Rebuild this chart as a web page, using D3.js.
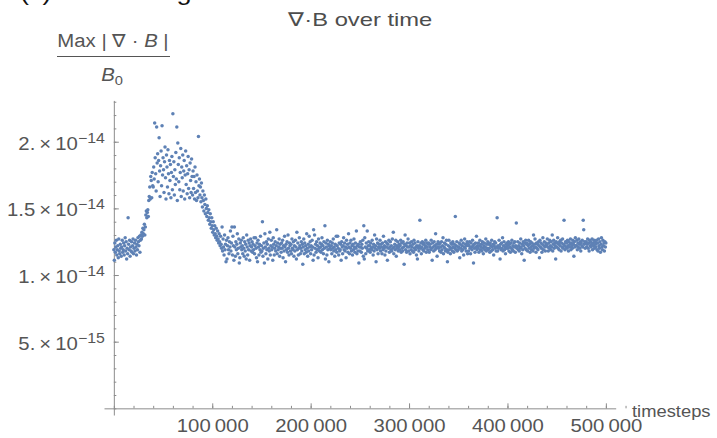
<!DOCTYPE html>
<html>
<head>
<meta charset="utf-8">
<script src="https://cdnjs.cloudflare.com/ajax/libs/d3/7.8.5/d3.min.js"></script>
<style>
  body { margin: 0; background: #fff; }
  svg text { font-family: "Liberation Sans", Arial, sans-serif; }
</style>
</head>
<body>
<script>
// max |div B| / B0, in units of 1e-16, one sample every 500 timesteps
var tStep = 500;

var startBand = [119,111,124,117,121,126,115,119,122,113,127,118,116,123,120,114,121,126,117,119,
  124,115,122,128,118,125,112,120,116,143,123,119,126,114,121,118,125,117,122,127,
  116,120,124,118,126,121,115,123,119,128,125,122,129,117,126,130];

var rise = [127,132,129,135,131,134,138,130,136,145,148,143,147,149,144,156,159,166,157,174,171,158,177,167];

var peak = [166,181,172,214,188,176,163,211,184,191,170,186,203,178,159,182,193,167,212,175,
  188,179,162,185,196,173,157,190,181,166,194,176,161,186,171,183,158,177,189,164,
  221,174,185,160,179,168,192,172,211,156,199,183,170,188,164,177,195,159,181,173,
  190,163,178,186,157,175,193,168,182,161,176,189,165,179,158,184,171,162,187,174,
  160,178,165,174,157,181,162,170,156,175,163,158,204,167];

var fall = [172,160,166,155,169,158,151,163,156,148,160,153,146,157,150,144,152,147,141,149,
  143,138,146,140,135,143,137,132,140,134,130,137,131,128,135,129,126,133,127,124,
  131,125,122,129,123,120];

var plateau = [
  136,118,127,121,115,130,119,123,110,126,112,122,128,119,116,125,121,133,118,124,
  136,115,129,122,111,136,121,114,125,119,123,131,116,120,127,109,113,124,121,126,
  119,122,116,128,120,114,125,118,123,112,130,121,115,126,119,124,111,122,127,118,
  121,125,117,123,119,128,116,122,128,120,113,124,110,126,121,115,123,119,129,117,
  122,118,140,114,120,124,109,131,121,116,125,119,123,112,127,120,118,132,115,122,
  126,119,121,111,128,123,115,120,125,118,122,134,116,124,119,121,127,114,123,120,
  117,124,120,126,113,122,118,129,121,110,123,119,125,117,130,120,115,124,122,118,
  123,116,127,120,119,125,114,122,118,126,121,112,132,119,124,115,120,128,122,116,
  120,125,118,123,108,121,127,116,124,119,122,117,131,120,114,123,118,129,121,125,
  116,122,119,126,121,111,134,115,130,120,123,117,125,119,122,113,127,120,118,124,
  121,117,123,128,119,122,116,125,120,137,112,124,121,115,126,119,123,110,122,120,
  125,119,122,116,124,120,127,118,121,114,123,119,129,117,122,129,120,115,124,118,
  119,123,111,125,121,116,122,128,119,124,118,121,113,126,120,123,117,131,121,116,
  124,120,126,118,122,115,123,119,127,121,117,124,120,133,116,122,118,123,109,121,
  118,125,121,117,123,120,126,114,137,112,128,121,116,124,120,133,118,122,125,119,
  122,117,124,120,119,126,121,115,123,118,130,120,122,110,127,119,124,116,121,123,
  120,126,118,123,121,116,124,119,129,120,122,115,125,118,121,124,111,123,120,126,
  117,121,125,119,122,118,127,120,132,116,121,123,119,126,114,122,120,125,118,121,
  123,119,122,126,117,124,120,118,125,121,108,123,130,119,122,117,124,121,127,118,
  121,124,116,122,119,125,121,118,123,117,126,120,124,119,121,115,122,112,125,120,
  118,122,141,120,124,116,121,125,119,123,118,124,120,122,126,117,121,124,119,123,
  124,117,121,123,119,126,120,111,124,121,118,125,122,119,131,120,123,114,121,125,
  120,123,118,124,121,117,125,119,122,128,116,121,124,120,118,123,126,119,110,117,
  122,126,119,121,116,124,120,123,118,125,121,117,123,120,144,119,122,125,118,121,
  119,121,124,113,123,120,126,118,122,119,124,115,121,127,120,123,118,122,125,116,
  123,118,122,125,120,116,124,121,119,126,122,109,123,120,117,124,121,129,119,122,
  120,124,117,122,126,119,121,123,118,125,120,116,122,124,119,121,127,118,123,120,
  125,119,123,120,117,124,122,118,126,121,119,123,115,122,125,120,124,118,121,143,
  118,122,120,126,121,112,123,119,124,120,128,118,122,125,119,121,116,123,120,124,
  122,120,125,118,123,121,117,124,120,126,119,122,118,124,121,125,117,122,139,120,
  121,125,119,122,118,124,120,127,121,116,123,119,125,122,111,124,120,126,119,123,
  124,118,122,126,120,123,117,125,121,119,124,122,118,130,120,123,127,121,117,124,
  120,123,119,125,122,113,126,121,124,120,117,123,128,119,122,125,121,118,124,122,
  123,127,121,118,124,120,126,122,119,125,121,130,118,123,126,120,124,122,112,125,
  121,124,128,120,123,119,125,122,126,118,124,121,127,120,123,141,122,119,125,121,
  124,120,126,122,118,125,121,123,127,119,124,122,120,126,123,114,125,121,128,122,
  122,126,119,124,121,127,123,120,125,118,124,122,126,121,141,134,123,125,120,124,
  125,121,123,127,120,124,118,126,122,125,121,123,127,119,124,122,126,120,125,123,
  121,126,119,124,118,127,122,120,125,117,123,128,121,119,126,122,124,118,125,121,
  124];

var divB = startBand.concat(rise, peak, fall, plateau);

var xMajor = [100000, 200000, 300000, 400000, 500000];
var xMinor = d3.range(0, 520001, 20000);
var yMajor = [5e-15, 1e-14, 1.5e-14, 2e-14];
var yMinor = d3.range(0, 24).map(function (k) { return k * 1e-15; });
var yMantissa = ["5.", "1.", "1.5", "2."];
var yExponent = ["\u221215", "\u221214", "\u221214", "\u221214"];

var W = 717, H = 438;
var sx = 1.13; // text in the reference is a bit wide
var gray = "#555";
var axisGray = "#8c8c8c";

var svg = d3.select("body").append("svg")
    .attr("width", W)
    .attr("height", H);

svg.append("rect").attr("width", W).attr("height", H).attr("fill", "#fff");

var x = d3.scaleLinear()
    .domain([-10000, 510000])
    .range([104, 615.7]);

var y = d3.scaleLinear()
    .domain([-0.5e-15, 2.31e-14])
    .range([415, 100.4]);

// x axis (ticks point up, labels below)
var xaxis = svg.append("g")
    .attr("transform", "translate(0," + y(0) + ")")
    .call(d3.axisBottom(x).tickValues(xMajor).tickSizeInner(-5).tickSizeOuter(0).tickPadding(11)
        .tickFormat(function (d) { return d3.format("d")(d / 1000) + "\u2009000"; }));

svg.append("g")
    .attr("transform", "translate(0," + y(0) + ")")
    .call(d3.axisBottom(x).tickValues(xMinor).tickSizeInner(-2.5).tickSizeOuter(0).tickFormat(""))
    .select(".domain").remove();

// y axis (ticks point right, labels left)
var yaxis = svg.append("g")
    .attr("transform", "translate(" + x(0) + ",0)")
    .call(d3.axisLeft(y).tickValues(yMajor).tickSizeInner(-5).tickSizeOuter(0).tickPadding(8));

svg.append("g")
    .attr("transform", "translate(" + x(0) + ",0)")
    .call(d3.axisLeft(y).tickValues(yMinor).tickSizeInner(-2.5).tickSizeOuter(0).tickFormat(""))
    .select(".domain").remove();

svg.selectAll(".domain, .tick line").attr("stroke", axisGray).attr("stroke-width", 1);

xaxis.selectAll(".tick text")
    .attr("fill", gray)
    .attr("font-size", 18)
    .attr("transform", "scale(" + sx + ",1)");

yaxis.selectAll(".tick text")
    .attr("fill", gray)
    .attr("font-size", 18)
    .attr("dy", "0.42em")
    .attr("transform", "scale(" + sx + ",1)")
    .each(function (d, i) {
        var t = d3.select(this);
        t.text(null);
        t.append("tspan").text(yMantissa[i] + "\u2009\u00d7\u200910");
        t.append("tspan").attr("dy", "-0.5em").attr("font-size", "0.78em").text(yExponent[i]);
    });

// points
svg.append("g")
    .selectAll("circle")
    .data(divB)
    .join("circle")
    .attr("cx", function (d, i) { return x(i * tStep); })
    .attr("cy", function (d) { return y(d * 1e-16); })
    .attr("r", 1.75)
    .attr("fill", "#5e81b5");

// labels
function label(px, py, anchor, size, color, stretch) {
    return svg.append("text")
        .attr("transform", "translate(" + px + "," + py + ") scale(" + (stretch || sx) + ",1)")
        .attr("text-anchor", anchor)
        .attr("font-size", size)
        .attr("fill", color);
}

// caption cut off at the top edge, as in the reference
label(20, 0, "start", 24, "#111").text("(c)  Max divergence of B over time");

label(360, 26, "middle", 19, "#4d4d4d", 1.25).text("\u2207\u00b7B over time");

var num = label(113, 47, "middle", 18, gray);
num.append("tspan").text("Max | \u2207 \u00b7 ");
num.append("tspan").attr("font-style", "italic").text("B");
num.append("tspan").text(" |");

svg.append("line")
    .attr("x1", 57).attr("x2", 170)
    .attr("y1", 56.5).attr("y2", 56.5)
    .attr("stroke", gray).attr("stroke-width", 1);

var den = label(112, 81, "middle", 18, gray);
den.append("tspan").attr("font-style", "italic").text("B");
den.append("tspan").attr("font-size", 13).attr("dy", 4).text("0");

label(632, 417, "start", 17, gray, 1.08).text("timesteps");
</script>
</body>
</html>
